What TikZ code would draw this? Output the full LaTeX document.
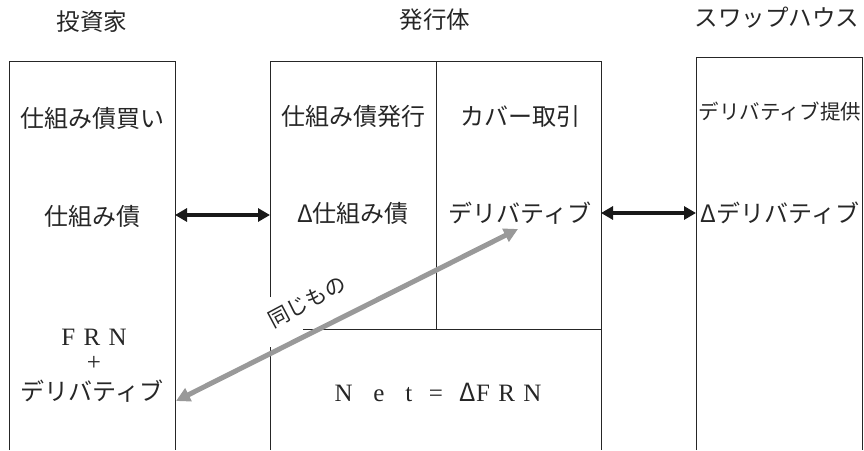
\documentclass[tikz,border=0pt]{standalone}
\usepackage{fontspec}
\setmainfont{Liberation Serif}
\newfontfamily\jp{Noto Sans CJK JP}
\usetikzlibrary{arrows.meta}
\begin{document}
\begin{tikzpicture}[x=1pt,y=-1pt,
  box/.style={draw=black!85,line width=1pt},
  lbl/.style={font=\jp\fontsize{24}{26}\selectfont,text=black!85,inner sep=0pt},
  ttl/.style={font=\jp\fontsize{23.5}{26}\selectfont,text=black!85,inner sep=0pt},
  ser/.style={font=\fontsize{25}{27}\selectfont,text=black!85,inner sep=0pt},
  blk/.style={{Triangle[length=12pt,width=13pt]}-{Triangle[length=12pt,width=13pt]},line width=3.2pt,black!90},
  gry/.style={{Triangle[length=14pt,width=14pt]}-{Triangle[length=14pt,width=14pt]},line width=5pt,black!40}]
\useasboundingbox (0,0) rectangle (864,450);
% boxes (open at bottom)
\draw[box] (9,450) -- (9,61) -- (175,61) -- (175,450);
\draw[box] (270,297) -- (270,61) -- (601,61) -- (601,450);
\draw[box] (270,347) -- (270,450);
\draw[box] (436,61) -- (436,329);
\draw[box] (303,329) -- (601,329);
\draw[box] (696,450) -- (696,57) -- (862,57) -- (862,450);
% titles
\node[ttl] (t1) at (92,22) {投資家};
\node[ttl] (t2) at (435,20) {発行体};
\node[ttl] (t3) at (777,18) {スワップハウス};
% left
\node[lbl] (a1) at (92,118) {仕組み債買い};
\node[lbl] (a2) at (92,216) {仕組み債};
\node[ser] (a3) at (94,337) {F\,\,R\,\,N};
\node[ser] (a4) at (94,363) {+};
\node[lbl] (a5) at (92,391) {デリバティブ};
% middle
\node[lbl] (b1) at (353,116) {仕組み債発行};
\node[lbl] (b2) at (520,116) {カバー取引};
\node[lbl] (b3) at (353,213) {Δ仕組み債};
\node[lbl] (b4) at (520,213) {デリバティブ};
\node[ser] (b5) at (438,392) {N\,\,\,\,\,e\,\,\,\,\,t\,\,\,\,=\,\,\,\,{\jp Δ}F\,\,R\,\,N};
% right
\node[lbl,font=\jp\fontsize{20.5}{22}\selectfont] (c1) at (780,112) {デリバティブ提供};
\node[lbl] (c2) at (780,213) {Δデリバティブ};
% connectors
\coordinate (l1) at (175,215);
\coordinate (m1) at (270,215);
\coordinate (m2) at (601,213);
\coordinate (r2) at (696,213);
\draw[blk] (l1) -- (m1);
\draw[blk] (m2) -- (r2);
\coordinate (g1) at (176,401);
\coordinate (g2) at (518,229);
\draw[gry] (g1) -- (g2);
\node[lbl,rotate=28,font=\jp\fontsize{21}{22}\selectfont] (same) at (307,302) {同じもの};
\end{tikzpicture}
\end{document}
